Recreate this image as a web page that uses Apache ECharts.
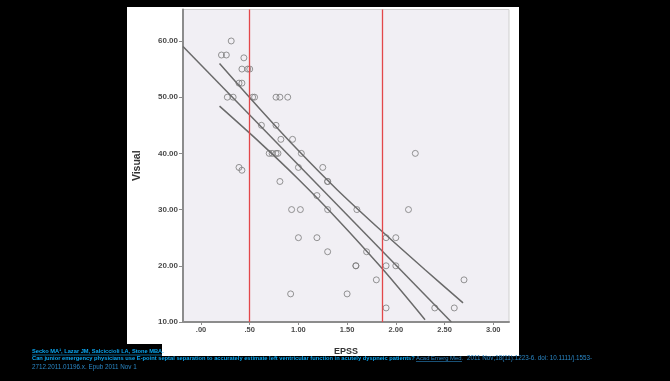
<!DOCTYPE html>
<html>
<head>
<meta charset="utf-8">
<script src="https://cdn.jsdelivr.net/npm/echarts@6/dist/echarts.min.js"></script>
<style>
  html, body { margin: 0; padding: 0; background: #000; }
  #panel { position: absolute; left: 127px; top: 7px; width: 392px; height: 349px; background: #fff; }
  #chart { position: absolute; left: 0; top: 0; width: 670px; height: 381px; }
</style>
</head>
<body>
<div id="panel"></div>
<div id="chart"></div>
<script>
// scatter points
const epss = [0.31, 0.21, 0.26, 0.44, 0.42, 0.48, 0.50, 0.39, 0.42,
  0.27, 0.33, 0.53, 0.55, 0.77, 0.81, 0.89, 0.62, 0.77, 0.82, 0.94,
  0.70, 0.73, 0.77, 0.79, 1.03, 2.20, 0.39, 1.00, 1.25, 0.42,
  0.81, 1.30, 1.30, 1.19, 0.93, 1.02, 1.30, 1.60, 2.13,
  1.00, 1.19, 1.90, 2.00, 1.30, 1.70, 1.59, 1.59, 1.90, 2.00,
  1.80, 2.70, 0.92, 1.50, 1.90, 2.40, 2.60]
const visual = [60, 57.5, 57.5, 57, 55, 55, 55, 52.5, 52.5,
  50, 50, 50, 50, 50, 50, 50, 45, 45, 42.5, 42.5,
  40, 40, 40, 40, 40, 40, 37.5, 37.5, 37.5, 37,
  35, 35, 35, 32.5, 30, 30, 30, 30, 30,
  25, 25, 25, 25, 22.5, 22.5, 20, 20, 20, 20,
  17.5, 17.5, 15, 15, 12.5, 12.5, 12.5]

// fit line and its confidence band
const fitX = [-0.185, 2.57]
const fitY = [59.0, 10]
const upperX = [0.19, 0.6, 1.0, 1.4, 1.86, 2.3, 2.69]
const upperY = [56.0, 48.0, 40.5, 33.5, 26.1, 19.3, 13.4]
const lowerX = [0.19, 0.6, 1.0, 1.4, 1.86, 2.3]
const lowerY = [48.4, 42.0, 35.4, 28.3, 19.5, 10.4]

// red reference lines
const cutoffs = [0.5, 1.86]

const xTicks = [0, 0.5, 1, 1.5, 2, 2.5, 3]
const yTicks = [10, 20, 30, 40, 50, 60]

const zip = (xs, ys) => xs.map((x, i) => [x, ys[i]])
const lineGray = '#6a6a6a'
const axisGray = '#8c8c8c'
const linkBlue = '#0aa6f0'
const plainBlue = '#2a86c4'

const chart = echarts.init(document.getElementById('chart'))
const option = {
  backgroundColor: 'transparent',
  animation: false,
  grid: {
    left: 183,
    right: 161,
    top: 9.5,
    bottom: 59,
    show: true,
    backgroundColor: '#f1eff4',
    borderColor: '#cfcfcf',
    borderWidth: 1
  },
  xAxis: {
    type: 'value',
    min: -0.185,
    max: 3.162,
    name: 'EPSS',
    nameLocation: 'middle',
    nameGap: 25,
    nameTextStyle: { fontSize: 9, fontWeight: 'bold', color: '#333', fontFamily: 'Liberation Sans' },
    axisLine: { show: true, onZero: false, lineStyle: { color: axisGray, width: 2 } },
    axisTick: { show: true, length: 3, customValues: xTicks, lineStyle: { color: axisGray } },
    axisLabel: {
      customValues: xTicks,
      formatter: v => v.toFixed(2).replace(/^0/, ''),
      fontSize: 7.5,
      fontWeight: 'bold',
      color: '#4a4a4a',
      fontFamily: 'Liberation Sans',
      margin: 4
    },
    splitLine: { show: false }
  },
  yAxis: {
    type: 'value',
    min: 10,
    max: 65.6,
    name: 'Visual',
    nameLocation: 'middle',
    nameGap: 40,
    nameTextStyle: { fontSize: 10.5, fontWeight: 'bold', color: '#333', fontFamily: 'Liberation Sans' },
    axisLine: { show: true, onZero: false, lineStyle: { color: axisGray, width: 2 } },
    axisTick: { show: true, length: 4, customValues: yTicks, lineStyle: { color: axisGray } },
    axisLabel: {
      customValues: yTicks,
      formatter: v => v.toFixed(2),
      fontSize: 8,
      fontWeight: 'bold',
      color: '#4a4a4a',
      fontFamily: 'Liberation Sans',
      margin: 5
    },
    splitLine: { show: false }
  },
  series: [
    {
      type: 'scatter',
      data: zip(epss, visual),
      symbol: 'circle',
      symbolSize: 6,
      itemStyle: { color: 'rgba(0,0,0,0)', borderColor: '#7a7a7a', borderWidth: 1 },
      markLine: {
        silent: true,
        symbol: 'none',
        label: { show: false },
        lineStyle: { color: '#e3474a', width: 1.3, type: 'solid' },
        data: cutoffs.map(c => ({ xAxis: c }))
      }
    },
    {
      type: 'line',
      data: zip(fitX, fitY),
      showSymbol: false,
      lineStyle: { color: lineGray, width: 1.5 }
    },
    {
      type: 'line',
      data: zip(upperX, upperY),
      showSymbol: false,
      smooth: 0.3,
      lineStyle: { color: lineGray, width: 1.5 }
    },
    {
      type: 'line',
      data: zip(lowerX, lowerY),
      showSymbol: false,
      smooth: 0.3,
      lineStyle: { color: lineGray, width: 1.5 }
    }
  ],
  graphic: [
    { type: 'rect', shape: { x: 127, y: 344, width: 35, height: 13 }, style: { fill: '#000' } },
    {
      type: 'text', x: 32, y: 351.5,
      style: { text: 'Secko MA\u00b9, Lazar JM, Salciccioli LA, Stone MBA.', fill: linkBlue,
        font: 'bold 5.7px "Liberation Sans"', verticalAlign: 'middle' }
    },
    { type: 'line', shape: { x1: 32, y1: 355, x2: 162, y2: 355 }, style: { stroke: linkBlue, lineWidth: 0.6 } },
    {
      type: 'text', x: 32, y: 358.5,
      style: { text: 'Can junior emergency physicians use E-point septal separation to accurately estimate left ventricular function in acutely dyspneic patients?',
        fill: linkBlue, font: 'bold 5.75px "Liberation Sans"', verticalAlign: 'middle' }
    },
    {
      type: 'text', x: 416, y: 358.5,
      style: { text: 'Acad Emerg Med.', fill: plainBlue, font: '5.9px "Liberation Sans"', verticalAlign: 'middle' }
    },
    { type: 'line', shape: { x1: 416, y1: 361.5, x2: 462, y2: 361.5 }, style: { stroke: plainBlue, lineWidth: 0.6 } },
    {
      type: 'text', x: 467, y: 358.5,
      style: { text: '2011 Nov;18(11):1223-6. doi: 10.1111/j.1553-', fill: plainBlue,
        font: '6.3px "Liberation Sans"', verticalAlign: 'middle' }
    },
    {
      type: 'text', x: 32, y: 367,
      style: { text: '2712.2011.01196.x. Epub 2011 Nov 1', fill: plainBlue,
        font: '6.3px "Liberation Sans"', verticalAlign: 'middle' }
    }
  ]
}
chart.setOption(option)
</script>
</body>
</html>
